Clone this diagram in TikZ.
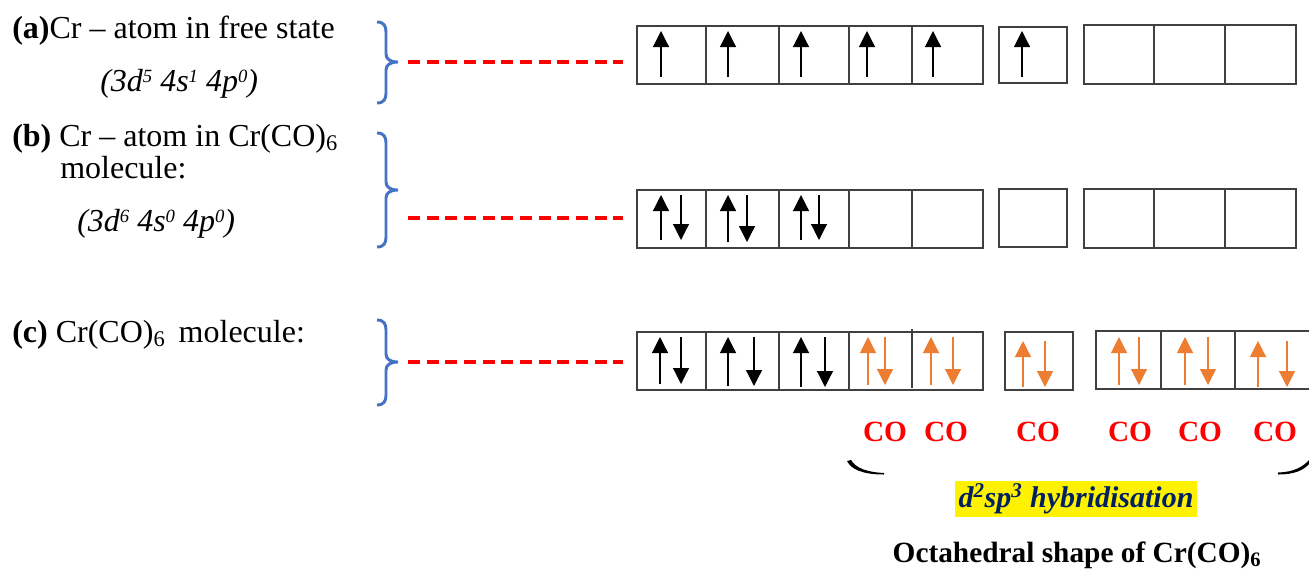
\documentclass[tikz,border=0pt]{standalone}
\usepackage{fontspec}
\setmainfont{Liberation Serif}
\usetikzlibrary{arrows.meta,fit}
\definecolor{bracebl}{HTML}{4472C4}
\definecolor{elorange}{HTML}{ED7D31}
\definecolor{navyblue}{HTML}{002060}
\definecolor{boxgray}{HTML}{404040}

% right-pointing curly brace: #1 name of tip, #2 top y, #3 tip y, #4 bottom y
\newcommand\curlyb[4]{%
  \draw[curly] (377,#2) .. controls (384,#2) and (386,#2+4) .. (386,#2+10)
    -- (386,#3-8) .. controls (386,#3-3) and (390,#3) .. (398,#3)
    .. controls (390,#3) and (386,#3+3) .. (386,#3+8)
    -- (386,#4-10) .. controls (386,#4-4) and (384,#4) .. (377,#4);
  \coordinate (#1) at (398,#3);}
% paired electrons: #1 x up, #2 x down, #3 top y, #4 bottom y, #5 colour
\newcommand\epair[5]{%
  \draw[spin,#5] (#1,#4) -- (#1,#3);
  \draw[spin,#5] (#2,#3) -- (#2,#4);}
% small raised index
\newcommand\upidx[1]{\raisebox{0.6ex}{\fontsize{14}{14}\selectfont #1}}

\begin{document}
\begin{tikzpicture}[x=0.75pt,y=-0.75pt,
  cellbox/.style={draw=boxgray,line width=0.9pt},
  spin/.style={line width=0.9pt,-{Triangle[width=12pt,length=12pt]}},
  curly/.style={draw=bracebl,line width=2.2pt},
  link/.style={draw=red,line width=2.5pt,dash pattern=on 9pt off 5pt,
               shorten <=7.5pt,shorten >=10.5pt},
  txt/.style={font=\fontsize{24}{28}\selectfont,anchor=base west,inner sep=0},
  co/.style={text=red,font=\bfseries\fontsize{22}{26}\selectfont,anchor=base,inner sep=0},
  grp/.style={inner sep=0}]
\useasboundingbox (0,0) rectangle (1309,569);

% ---------- labels ----------
\node[txt] (la) at (12,38) {\textbf{(a)}Cr – atom in free state};
\node[txt] (ca) at (100,91) {\textit{(3d\upidx{5} 4s\upidx{1} 4p\upidx{0})}};
\node[txt] (lb) at (12,146) {\textbf{(b)} Cr – atom in Cr(CO)\textsubscript{6}};
\node[txt] (lb2) at (60,178) {molecule:};
\node[txt] (cb) at (77,231) {\textit{(3d\upidx{6} 4s\upidx{0} 4p\upidx{0})}};
\node[txt] (lc) at (12,342) {\textbf{(c)} Cr(CO)\textsubscript{6}\, molecule:};

% ---------- braces ----------
\curlyb{ta}{22}{62}{103}
\curlyb{tb}{133}{190}{247}
\curlyb{tc}{320}{362}{405}
\coordinate (sb) at (398,218);

% ---------- row (a): 3d5 4s1 4p0 ----------
\draw[cellbox] (637,26) rectangle (983,84);
\foreach \x in {706,779,849,912} \draw[cellbox] (\x,26) -- (\x,84);
\node[grp,fit={(637,26)(983,84)}] (a3d) {};
\draw[cellbox] (999,27) rectangle (1067,83);
\node[grp,fit={(999,27)(1067,83)}] (a4s) {};
\draw[cellbox] (1084,25) rectangle (1296,84);
\foreach \x in {1154,1225} \draw[cellbox] (\x,24) -- (\x,84);
\node[grp,fit={(1084,25)(1296,84)}] (a4p) {};
\foreach \x in {661,728,801,867,933,1022} \draw[spin] (\x,77) -- (\x,31);

% ---------- row (b): 3d6 4s0 4p0 ----------
\draw[cellbox] (637,190) rectangle (983,248);
\foreach \x in {706,779,849,912} \draw[cellbox] (\x,190) -- (\x,248);
\node[grp,fit={(637,190)(983,248)}] (b3d) {};
\draw[cellbox] (999,189) rectangle (1067,247);
\node[grp,fit={(999,189)(1067,247)}] (b4s) {};
\draw[cellbox] (1084,189) rectangle (1296,248);
\foreach \x in {1154,1225} \draw[cellbox] (\x,188) -- (\x,248);
\node[grp,fit={(1084,189)(1296,248)}] (b4p) {};
\epair{661}{681}{195}{240}{black}
\epair{728}{747}{195}{242}{black}
\epair{801}{819}{195}{240}{black}

% ---------- row (c): Cr(CO)6 ----------
\draw[cellbox] (637,332) rectangle (983,390);
\foreach \x in {706,779,849} \draw[cellbox] (\x,332) -- (\x,390);
\draw[cellbox] (912,329) -- (912,388);
\node[grp,fit={(637,332)(983,390)}] (c3d) {};
\draw[cellbox] (1005,332) rectangle (1073,390);
\node[grp,fit={(1005,332)(1073,390)}] (c4s) {};
\draw[cellbox] (1096,331) rectangle (1312,389);
\foreach \x in {1161,1235} \draw[cellbox] (\x,331) -- (\x,389);
\node[grp,fit={(1096,331)(1309,389)}] (c4p) {};
\epair{660}{681}{337}{384}{black}
\epair{728}{754}{337}{386}{black}
\epair{801}{825}{337}{387}{black}
\epair{868}{885}{337}{385}{elorange}
\epair{931}{953}{337}{385}{elorange}
\epair{1023}{1045}{341}{387}{elorange}
\epair{1119}{1139}{337}{385}{elorange}
\epair{1185}{1208}{337}{385}{elorange}
\epair{1258}{1287}{341}{387}{elorange}

% ---------- dashed links ----------
\draw[link] (ta) -- (a3d.west |- ta);
\draw[link] (sb) -- (b3d.west |- sb);
\draw[link] (tc) -- (c3d.west |- tc);

% ---------- ligands ----------
\node[co] (co1) at (885,441) {CO};
\node[co] (co2) at (946,441) {CO};
\node[co] (co3) at (1038,441) {CO};
\node[co] (co4) at (1130,441) {CO};
\node[co] (co5) at (1200,441) {CO};
\node[co] (co6) at (1275,441) {CO};

% ends of the underbrace
\fill (847,461) .. controls (851,469) and (862,474.5) .. (884,474.5)
  -- (884,473) .. controls (866,472) and (856,468) .. (851,460) -- cycle;
\fill (1278,474.5) .. controls (1295,474.5) and (1304,470) .. (1310,463)
  -- (1310,459) .. controls (1303,467) and (1294,472) .. (1278,472.5) -- cycle;

% ---------- hybridisation and shape ----------
\node[fill=yellow,inner sep=0,minimum width=181.5pt,minimum height=27pt,
      text=navyblue,font=\bfseries\itshape\fontsize{22.5}{26}\selectfont] (hyb) at (1076,499)
  {d\textsuperscript{2}sp\textsuperscript{3} hybridisation};
\node[anchor=base,inner sep=0,font=\bfseries\fontsize{22}{26}\selectfont] (shape) at (1077,562)
  {Octahedral shape of Cr(CO)\textsubscript{6}};
\end{tikzpicture}
\end{document}
